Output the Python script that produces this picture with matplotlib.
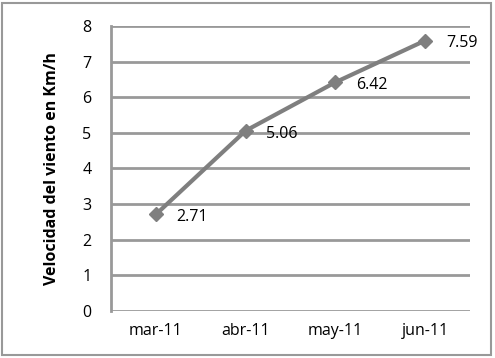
import matplotlib.pyplot as plt
from matplotlib.patches import Rectangle

plt.rcParams['font.family'] = ['Open Sans', 'DejaVu Sans']

months = ["mar-11", "abr-11", "may-11", "jun-11"]
velocidad = [2.71, 5.06, 6.42, 7.59]
y_ticks = [0, 1, 2, 3, 4, 5, 6, 7, 8]

grey = "#7f7f7f"
grid_grey = "#999999"

fig = plt.figure(figsize=(4.95, 3.58), dpi=100)
ax = fig.add_axes([0.2242, 0.1313, 0.7253, 0.7961])

x = range(len(months))
ax.plot(x, velocidad, color=grey, lw=3, marker="D", markersize=7, zorder=3)
for xi, v in zip(x, velocidad):
    ax.annotate(f"{v:.2f}", (xi, v), xytext=(15, -2), textcoords="offset points",
                ha="left", va="center", fontsize=11.5, color="black")

ax.set_xlim(-0.5, len(months) - 0.5)
ax.set_ylim(0, 8)
ax.set_xticks(list(x))
ax.set_xticklabels(months, fontsize=11.5)
ax.set_yticks(y_ticks)
ax.set_yticklabels([str(t) for t in y_ticks], fontsize=11.5)
ax.tick_params(length=0, pad=14)
ax.tick_params(axis="x", pad=9)
ax.yaxis.grid(True, color=grid_grey, lw=2)
ax.set_axisbelow(True)
for side in ("top", "right", "bottom"):
    ax.spines[side].set_visible(False)
ax.spines["left"].set_color(grid_grey)
ax.spines["left"].set_linewidth(2)

ax.set_ylabel("Velocidad del viento en Km/h", fontsize=11.5, fontweight="bold", labelpad=16)

fig.patches.append(Rectangle((0.004, 0.008), 0.988, 0.985, transform=fig.transFigure,
                             fill=False, edgecolor=grid_grey, lw=1.5))

fig.savefig("out.png", dpi=100)
